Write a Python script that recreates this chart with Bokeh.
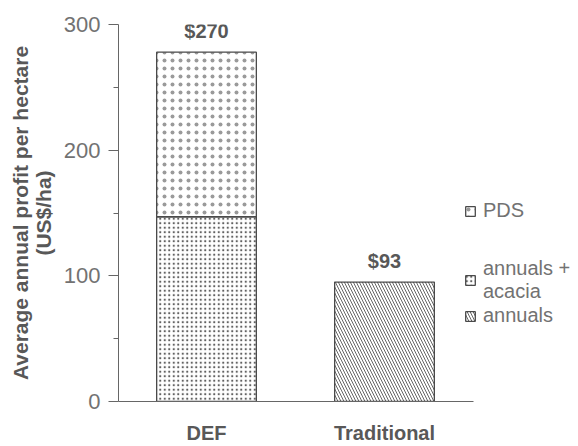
from bokeh.plotting import figure
from bokeh.models import (ColumnDataSource, Range1d, FixedTicker, Legend, LegendItem)
from bokeh.core.properties import value
from bokeh.embed import file_html
from bokeh.resources import INLINE

# ---- data ----
categories = ["DEF", "Traditional"]
annuals_acacia = [147, 0]
pds = [131, 0]
annuals = [0, 95]
value_labels = ["$270", "$93"]
y_ticks = [0, 100, 200, 300]
y_minor_ticks = [50, 150, 250]
series_names = ["PDS", "annuals +\nacacia", "annuals"]

FONT = "Liberation Sans"
TXT_DARK = "#585858"
TXT_LIGHT = "#727272"
LINE = "#666666"

positions = list(range(1, len(categories) + 1))

X0 = 0.5056
p = figure(width=578, height=446, output_backend="svg", toolbar_location=None,
           x_range=Range1d(X0, 3.09), y_range=Range1d(0, 300),
           min_border_left=118, min_border_right=0, min_border_top=24,
           min_border_bottom=43)
p.outline_line_color = None
p.xgrid.visible = False
p.ygrid.visible = False
p.background_fill_color = "white"
p.border_fill_color = "white"

def segs(cat_vals, base_vals=None):
    xs, bottoms, tops = [], [], []
    for i, v in enumerate(cat_vals):
        if v:
            b = base_vals[i] if base_vals else 0
            xs.append(positions[i]); bottoms.append(b); tops.append(b + v)
    return ColumnDataSource(dict(x=xs, bottom=bottoms, top=tops))

W = 0.56
common = dict(fill_color="white", line_color="#4a4a4a", line_width=1.3)

r_aa = p.vbar(x="x", bottom="bottom", top="top", width=W, source=segs(annuals_acacia),
              hatch_pattern="dot", hatch_scale=4.5, hatch_weight=1.0,
              hatch_color="#606060", **common)
r_pds = p.vbar(x="x", bottom="bottom", top="top", width=W, source=segs(pds, annuals_acacia),
               hatch_pattern="dot", hatch_scale=8, hatch_weight=0.5,
               hatch_color="#9a9a9a", **common)
r_an = p.vbar(x="x", bottom="bottom", top="top", width=W, source=segs(annuals),
              hatch_pattern="left_diagonal_line", hatch_scale=6, hatch_weight=0.9,
              hatch_color="#555555", **common)

totals = [a + b + c for a, b, c in zip(annuals_acacia, pds, annuals)]
lab_src = ColumnDataSource(dict(x=positions, y=totals, t=value_labels))
p.text(x="x", y="y", text="t", source=lab_src, text_align="center",
       text_baseline="bottom", y_offset=-10, text_font=value(FONT),
       text_font_size="20px", text_font_style="bold", text_color=TXT_DARK)

# y axis
ya = p.yaxis[0]
ya.ticker = FixedTicker(ticks=y_ticks, minor_ticks=y_minor_ticks)
ya.axis_line_color = LINE
ya.major_tick_line_color = LINE
ya.minor_tick_line_color = LINE
ya.major_tick_out = 10
ya.major_tick_in = 0
ya.minor_tick_out = 5
ya.minor_tick_in = 0
ya.major_label_standoff = 8
ya.major_label_text_font = FONT
ya.major_label_text_font_size = "22px"
ya.major_label_text_color = TXT_LIGHT
ya.axis_label = "Average annual profit per hectare\n(US$/ha)"
ya.axis_label_text_font = FONT
ya.axis_label_text_font_size = "21px"
ya.axis_label_text_font_style = "bold"
ya.axis_label_text_color = TXT_DARK
ya.axis_label_text_line_height = 1.0
ya.axis_label_standoff = 6

# x axis
xa = p.xaxis[0]
xa.ticker = FixedTicker(ticks=positions, minor_ticks=[])
xa.bounds = (X0, 2.5)
xa.major_label_overrides = {pos: c for pos, c in zip(positions, categories)}
xa.axis_line_color = LINE
xa.major_tick_line_color = None
xa.major_tick_out = 0
xa.major_tick_in = 0
xa.minor_tick_line_color = None
xa.major_label_standoff = 20
xa.major_label_text_font = FONT
xa.major_label_text_font_size = "20px"
xa.major_label_text_font_style = "bold"
xa.major_label_text_color = TXT_DARK

legend_style = dict(border_line_color=None, background_fill_alpha=0,
                    padding=0, margin=0, spacing=0, glyph_width=12, glyph_height=12,
                    label_standoff=7, label_text_font=FONT, label_text_font_size="20px",
                    label_text_color=TXT_LIGHT, label_height=25)

leg1 = Legend(items=[LegendItem(label=series_names[0], renderers=[r_pds])],
              location=(346, 178), **legend_style)
leg2 = Legend(items=[LegendItem(label=series_names[1], renderers=[r_aa]),
                     LegendItem(label=series_names[2], renderers=[r_an])],
              location=(346, 73), **legend_style)
p.add_layout(leg1, "center")
p.add_layout(leg2, "center")

open("out.html", "w").write(file_html(p, INLINE))
